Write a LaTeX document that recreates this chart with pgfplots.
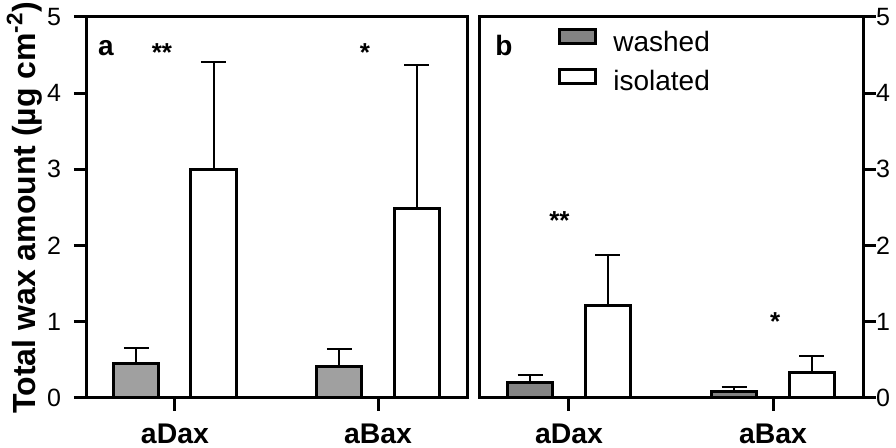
\documentclass[border=0pt]{standalone}
\usepackage{fontspec}
\setmainfont{Liberation Sans}
\usepackage{pgfplots}
\pgfplotsset{compat=1.18}

\definecolor{washA}{HTML}{A0A0A0}
\definecolor{washB}{HTML}{838383}

\tikzset{star/.style={font=\fontsize{13}{15}\selectfont\bfseries, inner sep=0pt, anchor=north}}

\pgfplotsset{
  panel/.style={
    scale only axis, height=190.5pt,
    ymin=0, ymax=5, ytick={0,1,2,3,4,5},
    xtick={0,1}, xticklabels={aDax,aBax}, xtick pos=bottom,
    tick align=outside, major tick length=6.5pt,
    axis line style={line width=1.5pt},
    every tick/.style={black, line width=1.5pt},
    yticklabel style={font=\fontsize{12.5}{15}\selectfont},
    xticklabel style={font=\fontsize{14.2}{16}\selectfont\bfseries, yshift=-3pt},
    /pgf/number format/assume math mode=true,
    ybar, bar width=0.222,
  },
  boxlegend/.style={legend image code/.code={
    \draw[##1, line width=1.5pt, yshift=0.55ex] (0pt,-3.5pt) rectangle (18pt,3.5pt);}},
  errs/.style={error bars/.cd, y dir=plus, y explicit,
    error bar style={line width=1pt, black},
    error mark options={rotate=90, mark size=6.3pt, line width=1pt, black}},
}

\begin{document}
\begin{tikzpicture}
% panel a
\begin{axis}[panel, at={(0,0)}, anchor=south west, width=190pt,
    xmin=-0.433, xmax=1.438, ytick pos=left,
    yticklabel style={xshift=-3pt},
    ylabel={\bfseries Total wax amount (µg cm\textsuperscript{-2})},
    ylabel style={font=\fontsize{16}{18}\selectfont, at={(axis description cs:-0.165,0.5)}, anchor=center},
]
\addplot[fill=washA, draw=black, line width=1.5pt, bar shift=-0.19, errs]
  coordinates {(0,0.45) +- (0,0.21) (1,0.41) +- (0,0.23)};
\addplot[fill=white, draw=black, line width=1.5pt, bar shift=0.19, errs]
  coordinates {(0,3.0) +- (0,1.41) (1,2.49) +- (0,1.88)};
\node[font=\fontsize{14}{16}\selectfont\bfseries, anchor=base] at (rel axis cs:0.05,0.9) {a};
\node[star] at (axis cs:-0.064,4.66) {**};
\node[star] at (axis cs:0.936,4.66) {*};
\end{axis}
% panel b
\begin{axis}[panel, at={(196pt,0)}, anchor=south west, width=192pt,
    xmin=-0.441, xmax=1.441, ytick pos=right, yticklabel pos=right,
    yticklabel shift=-3.5pt,
    legend style={at={(rel axis cs:0.19,0.985)}, anchor=north west, draw=none, fill=none,
      font=\fontsize{14}{16}\selectfont, row sep=4pt,
      /tikz/every even column/.append style={column sep=6pt}},
    legend cell align=left,
]
\addplot[fill=washB, draw=black, line width=1.5pt, bar shift=-0.19, boxlegend, errs]
  coordinates {(0,0.20) +- (0,0.10) (1,0.09) +- (0,0.05)};
\addplot[fill=white, draw=black, line width=1.5pt, bar shift=0.19, boxlegend, errs]
  coordinates {(0,1.22) +- (0,0.66) (1,0.33) +- (0,0.22)};
\legend{\hspace{6pt}washed, \hspace{6pt}isolated}
\node[font=\fontsize{14}{16}\selectfont\bfseries, anchor=base] at (rel axis cs:0.065,0.9) {b};
\node[star] at (axis cs:-0.047,2.45) {**};
\node[star] at (axis cs:1.01,1.12) {*};
\end{axis}
\pgfresetboundingbox
\path[use as bounding box] (-43.5pt,-25pt) rectangle (404.5pt,199pt);
\end{tikzpicture}
\end{document}
